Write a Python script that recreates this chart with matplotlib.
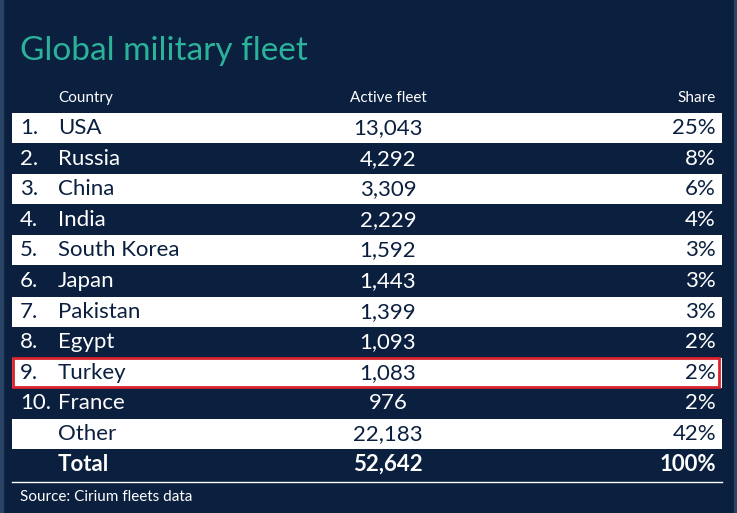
import matplotlib.pyplot as plt
from matplotlib.patches import Rectangle

ranks = ["1.", "2.", "3.", "4.", "5.", "6.", "7.", "8.", "9.", "10.", "", ""]
countries = ["USA", "Russia", "China", "India", "South Korea", "Japan",
             "Pakistan", "Egypt", "Turkey", "France", "Other", "Total"]
fleet = [13043, 4292, 3309, 2229, 1592, 1443, 1399, 1093, 1083, 976, 22183, 52642]
share = [25, 8, 6, 4, 3, 3, 3, 2, 2, 2, 42, 100]
highlight = "Turkey"

NAVY = "#0b1f3f"
TEAL = "#2bb39a"
RED = "#d9232e"

plt.rcParams["font.family"] = ["Lato", "DejaVu Sans"]

fig = plt.figure(figsize=(7.37, 5.13), dpi=100, facecolor=NAVY)
ax = fig.add_axes([0, 0, 1, 1])
ax.set_xlim(0, 737)
ax.set_ylim(513, 0)
ax.axis("off")
ax.set_facecolor(NAVY)

# lighter edge strips
ax.add_patch(Rectangle((0, 0), 3, 513, color="#2a4466", zorder=0))
ax.add_patch(Rectangle((734, 0), 3, 513, color="#2a4466", zorder=0))

ax.text(20, 51, "Global military fleet", color=TEAL, fontsize=24, va="center")

ax.text(58, 98, "Country", color="white", fontsize=11, va="center")
ax.text(388, 98, "Active fleet", color="white", fontsize=11, va="center", ha="center")
ax.text(716, 98, "Share", color="white", fontsize=11, va="center", ha="right")

y0, step = 128, 30.6
ys = [y0 + i * step for i in range(len(countries))]
for i, y in enumerate(ys):
    white = i % 2 == 0 and countries[i] != "Total"
    if white:
        ax.barh(y, 710, left=12, height=30, color="white", zorder=1)
    tc = NAVY if white else "white"
    bold = "bold" if countries[i] == "Total" else "normal"
    ax.text(20, y, ranks[i], color=tc, fontsize=16, va="center", zorder=3)
    ax.text(58, y, countries[i], color=tc, fontsize=16, va="center", weight=bold, zorder=3)
    ax.text(388, y, f"{fleet[i]:,}", color=tc, fontsize=16, va="center",
            ha="center", weight=bold, zorder=3)
    ax.text(716, y, f"{share[i]}%", color=tc, fontsize=16, va="center",
            ha="right", weight=bold, zorder=3)
    if countries[i] == highlight:
        ax.add_patch(Rectangle((13, y - 14.5), 706, 29, fill=False,
                               edgecolor=RED, lw=2, zorder=4))

ax.plot([12, 722], [482, 482], color="white", lw=1)
ax.text(20, 497, "Source: Cirium fleets data", color="white", fontsize=11, va="center")

fig.savefig("out.png", dpi=100, facecolor=NAVY)
